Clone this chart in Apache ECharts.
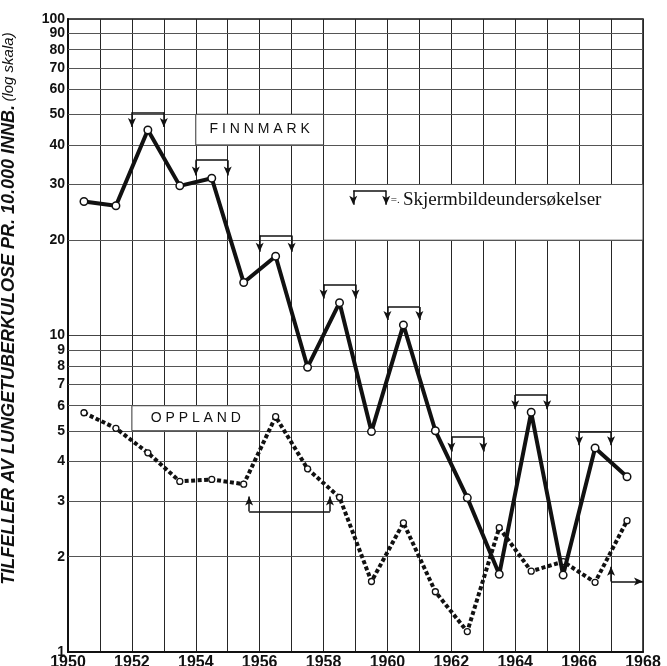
<!DOCTYPE html>
<html><head><meta charset="utf-8">
<script src="https://cdn.jsdelivr.net/npm/echarts@6/dist/echarts.min.js"></script>
<style>html,body{margin:0;padding:0;background:#fff}#c{width:667px;height:666px}</style>
</head><body><div id="c"></div>
<script>
// ---- data ----
const years = [1950.5,1951.5,1952.5,1953.5,1954.5,1955.5,1956.5,1957.5,1958.5,1959.5,1960.5,1961.5,1962.5,1963.5,1964.5,1965.5,1966.5,1967.5];
const finnmark = [26.5,25.7,44.6,29.7,31.4,14.7,17.8,7.94,12.7,4.97,10.8,5.0,3.07,1.76,5.72,1.75,4.41,3.58];
const oppland  = [5.70,5.09,4.26,3.46,3.51,3.39,5.54,3.79,3.08,1.67,2.56,1.55,1.16,2.47,1.80,1.93,1.66,2.60];
const xTickLabels = ['1950','1952','1954','1956','1958','1960','1962','1964','1966','1968'];
const yMinorLabels = [2,3,4,5,6,7,8,9,20,30,40,50,60,70,80,90];
// screening surveys (Finnmark brackets)
const screenStart = [1952,1954,1956,1958,1960,1962,1964,1966];
const screenEnd   = [1953,1955,1957,1959,1961,1963,1965,1967];
const screenTop   = [50.7,35.8,20.7,14.5,12.3,4.77,6.49,4.98];
const screenTip   = [45.6,32.0,18.4,13.1,11.2,4.30,5.85,4.50];
// Oppland screening markers
const oppStart = 1955.67, oppEnd = 1958.2, oppBase = 2.78, oppTip = 3.10;
const opp2X = 1967, opp2Base = 1.67, opp2Tip = 1.86, opp2End = 1968;
const legendStart = 1958.93, legendEnd = 1959.96, legendTop = 28.7, legendTip = 25.9, legendTextY = 26.8;
const seriesNames = ['FINNMARK','OPPLAND'];
const legendText = 'Skjermbildeundersøkelser';

const spaced = s => s.split('').join(' ');
const arrowDown = (x, top, tip) => [{coord:[x,top], symbol:'none'},{coord:[x,tip], symbol:'arrow'}];
const seg = (x0,y0,x1,y1) => [{coord:[x0,y0], symbol:'none'},{coord:[x1,y1], symbol:'none'}];

const bracketLines = [];
for (let i=0;i<screenStart.length;i++){
  bracketLines.push(arrowDown(screenStart[i], screenTop[i], screenTip[i]));
  bracketLines.push(seg(screenStart[i], screenTop[i], screenEnd[i], screenTop[i]));
  bracketLines.push(arrowDown(screenEnd[i], screenTop[i], screenTip[i]));
}
bracketLines.push(arrowDown(legendStart, legendTop, legendTip));
bracketLines.push(seg(legendStart, legendTop, legendEnd, legendTop));
bracketLines.push(arrowDown(legendEnd, legendTop, legendTip));
bracketLines.push(arrowDown(oppStart, oppBase, oppTip));
bracketLines.push(seg(oppStart, oppBase, oppEnd, oppBase));
bracketLines.push(arrowDown(oppEnd, oppBase, oppTip));
bracketLines.push(arrowDown(opp2X, opp2Base, opp2Tip));
bracketLines.push([{coord:[opp2X,opp2Base], symbol:'none'},{coord:[opp2End,opp2Base], symbol:'arrow'}]);

const chart = echarts.init(document.getElementById('c'), null, {renderer:'canvas'});
const labelFont = {fontFamily:'Liberation Sans', fontWeight:'bold', color:'#111'};
chart.setOption({
  animation:false,
  backgroundColor:'#fff',
  grid:{left:68, right:24, top:19, bottom:14, containLabel:false, outerBoundsMode:'none',
        show:true, borderColor:'#111', borderWidth:1.5, backgroundColor:'#fff'},
  xAxis:{type:'value', min:1950, max:1968, interval:1,
    axisLine:{show:true, lineStyle:{color:'#111', width:2}},
    axisTick:{show:false},
    splitLine:{show:true, lineStyle:{color:'#262626', width:1}},
    axisLabel:Object.assign({fontSize:16, margin:3, formatter:v=>xTickLabels.includes(String(v))?String(v):''}, labelFont)},
  yAxis:{type:'log', logBase:10, min:1, max:100,
    axisLine:{show:true, lineStyle:{color:'#111', width:2}},
    axisTick:{show:false},
    splitLine:{show:true, lineStyle:{color:'#444', width:1}},
    axisLabel:Object.assign({fontSize:14, margin:3}, labelFont),
    name:'{b|TILFELLER AV LUNGETUBERKULOSE PR. 10.000 INNB.} {n|(log skala)}',
    nameLocation:'middle', nameRotate:90, nameGap:50,
    nameTextStyle:{padding:[0,0,0,54], rich:{
      b:{fontFamily:'Liberation Sans', fontWeight:'bold', fontStyle:'italic', fontSize:18, color:'#111'},
      n:{fontFamily:'Liberation Sans', fontStyle:'italic', fontSize:15, color:'#111'}}}},
  series:[
    {type:'line', data:[[1950,1]], symbol:'none', lineStyle:{width:0}, z:1, silent:true,
     markLine:{silent:true, symbol:['none','none'], animation:false,
       lineStyle:{color:'#555', width:1, type:'solid'},
       label:Object.assign({show:true, position:'start', distance:3, fontSize:14, formatter:p=>String(p.value)}, labelFont),
       data:yMinorLabels.map(v=>({yAxis:v}))}},
    {type:'line', data:[[1950,1]], symbol:'none', lineStyle:{width:0}, z:3, silent:true,
     markArea:{silent:true,
       itemStyle:{color:'#fff', borderColor:'#333', borderWidth:1},
       label:{show:true, position:'inside', fontFamily:'Liberation Sans', fontSize:14, color:'#111', fontWeight:500},
       data:[
         [{name:spaced(seriesNames[0]), xAxis:1954, yAxis:40},{xAxis:1958, yAxis:50}],
         [{name:spaced(seriesNames[1]), xAxis:1952, yAxis:5},{xAxis:1956, yAxis:6}],
         [{name:'', xAxis:1958, yAxis:20},{xAxis:1968, yAxis:30}]
       ]}},
    {type:'line', data:[[1950,1]], symbol:'none', lineStyle:{width:0}, z:4, silent:true,
     markLine:{silent:true, symbolSize:[6,9], animation:false,
       lineStyle:{color:'#111', width:1.5, type:'solid'},
       label:{show:false},
       data:bracketLines},
     markPoint:{silent:true, symbol:'circle', symbolSize:0,
       label:{show:true, position:'right', distance:2, formatter:'{e|=.} {t|'+legendText+'}',
         rich:{e:{fontFamily:'Liberation Serif', fontSize:11, color:'#111'}, t:{fontFamily:'Liberation Serif', fontSize:19, color:'#111'}}},
       data:[{coord:[legendEnd+0.08, legendTextY]}]}},
    {name:seriesNames[1], type:'line', z:5, data:years.map((x,i)=>[x, oppland[i]]),
     symbol:'circle', symbolSize:6, showAllSymbol:true,
     lineStyle:{color:'#111', width:4, type:[4,2.5], cap:'butt'},
     itemStyle:{color:'#fff', borderColor:'#111', borderWidth:1.3}},
    {name:seriesNames[0], type:'line', z:6, data:years.map((x,i)=>[x, finnmark[i]]),
     symbol:'circle', symbolSize:7.5, showAllSymbol:true,
     lineStyle:{color:'#111', width:4},
     itemStyle:{color:'#fff', borderColor:'#111', borderWidth:1.5}}
  ]
});
</script></body></html>
